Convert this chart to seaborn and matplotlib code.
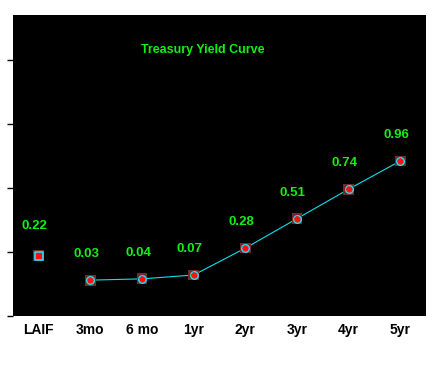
import numpy as np
import pandas as pd
import matplotlib
matplotlib.use("Agg")
import matplotlib.pyplot as plt
import seaborn as sns

# Datos de la curva
etiquetas = ["LAIF", "3mo", "6 mo", "1yr", "2yr", "3yr", "4yr", "5yr"]
rendimientos = [0.22, 0.03, 0.04, 0.07, 0.28, 0.51, 0.74, 0.96]
textos = ["0.22", "0.03", "0.04", "0.07", "0.28", "0.51", "0.74", "0.96"]

sns.set_style("white")
plt.rcParams['font.family'] = ['Liberation Sans', 'DejaVu Sans']

df = pd.DataFrame({"pos": np.arange(len(etiquetas)), "valor": rendimientos, "etiqueta": etiquetas})
laif = df.iloc[:1]
curva = df.iloc[1:]

fig = plt.figure(figsize=(4.37, 3.72), dpi=100)
ax = fig.add_axes([13 / 437, 1 - 316 / 372, 413 / 437, 301 / 372])
ax.set_facecolor("black")

# Linea de la curva (sin LAIF)
sns.lineplot(data=curva, x="pos", y="valor", color="#10e0ee", linewidth=0.8, ax=ax, zorder=2)

# Fondo marron de los marcadores
sns.scatterplot(data=df, x="pos", y="valor", marker="s", s=60, color="#6a2c2c",
                edgecolor="none", ax=ax, zorder=3, legend=False)
# Marcadores de la curva
sns.scatterplot(data=curva, x="pos", y="valor", marker="o", s=30, color="#ff1010",
                edgecolor="#22e0ee", linewidth=1.0, ax=ax, zorder=4, legend=False)
sns.scatterplot(data=curva, x="pos", y="valor", marker="D", s=10, color="#ff1010",
                edgecolor="none", ax=ax, zorder=5, legend=False)
# Marcador LAIF
sns.scatterplot(data=laif, x="pos", y="valor", marker="s", s=30, color="#ff1010",
                edgecolor="#22e0ee", linewidth=1.2, ax=ax, zorder=4, legend=False)

# Etiquetas de valores
for i, (v, t) in enumerate(zip(rendimientos, textos)):
    dy = 30 if i == 0 else 26
    ax.annotate(t, (i, v), xytext=(-4, dy), textcoords="offset pixels",
                ha="center", va="center", color="#11f011", fontsize=9.5, fontweight="bold")

ax.text(0.46, 0.885, "Treasury Yield Curve", transform=ax.transAxes, ha="center", va="center",
        color="#11f011", fontsize=9, fontweight="bold")

ax.set_xlim(-0.5, 7.5)
ax.set_ylim(-0.25, 2.1)
ax.set_xticks(range(len(etiquetas)))
ax.set_xticklabels(etiquetas, fontsize=10, fontweight="bold", color="black")
ax.set_yticks([-0.25, 0.25, 0.75, 1.25, 1.75])
ax.set_yticklabels([])
ax.tick_params(axis="x", length=0, pad=5)
ax.tick_params(axis="y", length=4, width=1, color="black", left=True, direction="out")
ax.set_xlabel("")
ax.set_ylabel("")
for s in ax.spines.values():
    s.set_visible(False)

fig.savefig("out.png", dpi=100, facecolor="white")
